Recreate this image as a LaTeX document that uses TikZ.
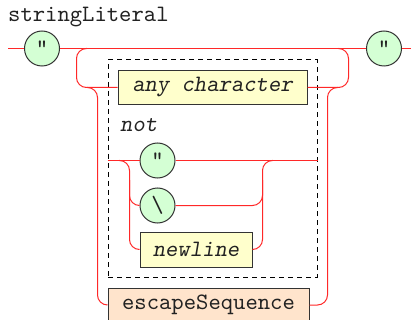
\documentclass[tikz,border=0pt]{standalone}
\usepackage{fontspec}
\setmonofont{lmmono10-regular.otf}[ItalicFont=lmmonoslant10-regular.otf]
\definecolor{railc}{RGB}{255,40,40}
\definecolor{termfill}{RGB}{212,255,212}
\definecolor{ntfill}{RGB}{255,255,204}
\definecolor{escfill}{RGB}{255,228,204}
\definecolor{edge}{RGB}{51,51,51}
\definecolor{txt}{RGB}{34,34,34}
\tikzset{
  rail/.style={draw=railc, line width=1pt, rounded corners=10pt},
  term/.style={circle, draw=edge, fill=termfill, line width=1pt, minimum size=35pt, inner sep=0pt, text=txt, font=\ttfamily\fontsize{23.5}{26}\selectfont},
  ntbox/.style={rectangle, draw=edge, fill=ntfill, line width=1pt, inner sep=0pt, text=txt, font=\ttfamily\itshape\fontsize{23.5}{26}\selectfont},
  escbox/.style={rectangle, draw=edge, fill=escfill, line width=1pt, inner sep=0pt, text=txt, font=\ttfamily\fontsize{23.5}{26}\selectfont},
  grpbox/.style={rectangle, draw=black, line width=1pt, dash pattern=on 5pt off 4pt, inner sep=0pt},
  lbl/.style={inner sep=0pt, text=txt, font=\ttfamily\fontsize{23.5}{26}\selectfont},
}
\begin{document}
\begin{tikzpicture}[x=1pt,y=-1pt]
\useasboundingbox (0,0) rectangle (411,320);
% title
\node[lbl, anchor=base west] (title) at (8,22) {stringLiteral};
% dashed group
\node[grpbox, minimum width=209pt, minimum height=217pt] (grp) at (212.5,168.5) {};
% nodes
\node[term] (q1) at (42,48.5) {"};
\node[term] (q3) at (384,48.5) {"};
\node[ntbox, minimum width=189pt, minimum height=34pt] (any) at (212.5,87.5) {any character};
\node[lbl, font=\ttfamily\itshape\fontsize{23.5}{26}\selectfont, anchor=base west] (nottxt) at (120,132) {not};
\node[term] (q2) at (157.5,160.5) {"};
\node[term] (bs) at (157.5,205.5) {\textbackslash};
\node[ntbox, minimum width=112pt, minimum height=35pt] (nl) at (196,249.5) {newline};
\node[escbox, minimum width=201pt, minimum height=34pt] (esc) at (208.5,305) {escapeSequence};
% coordinates
\coordinate (start) at (8,48.5);
\coordinate (stop) at (411,48.5);
\coordinate (olt) at (86,48.5);
\coordinate (olc) at (76.5,48.5);
\coordinate (ort) at (339,48.5);
\coordinate (orc) at (348.5,48.5);
\coordinate (ilt) at (87,87.5);
\coordinate (ilc) at (97.5,87.5);
\coordinate (irt) at (338,87.5);
\coordinate (irc) at (327.5,87.5);
\coordinate (nlt) at (119,160.5);
\coordinate (nlc) at (129.5,160.5);
\coordinate (nrt) at (272,160.5);
\coordinate (nrc) at (262.5,160.5);
\coordinate (nlm) at (129.5,180);
\coordinate (nrm) at (262.5,180);
% main line
\draw[rail] (start) -- (q1.west);
\draw[rail] (q1.east) -- (q3.west);
\draw[rail] (q3.east) -- (stop);
% outer rails to group
\draw[rail] (olt) -- (olc) |- (any.west);
\draw[rail] (any.east) -| (orc) -- (ort);
% inner rails to escapeSequence
\draw[rail] (ilt) -- (ilc) |- (esc.west);
\draw[rail] (esc.east) -| (irc) -- (irt);
% inside group
\draw[rail] (grp.west |- q2) -- (q2.west);
\draw[rail] (q2.east) -- (grp.east |- q2);
\draw[rail] (nlt) -- (nlc) |- (nl.west);
\draw[rail] (nlm) |- (bs.west);
\draw[rail] (nl.east) -| (nrc) -- (nrt);
\draw[rail] (bs.east) -| (nrm);
\end{tikzpicture}
\end{document}
